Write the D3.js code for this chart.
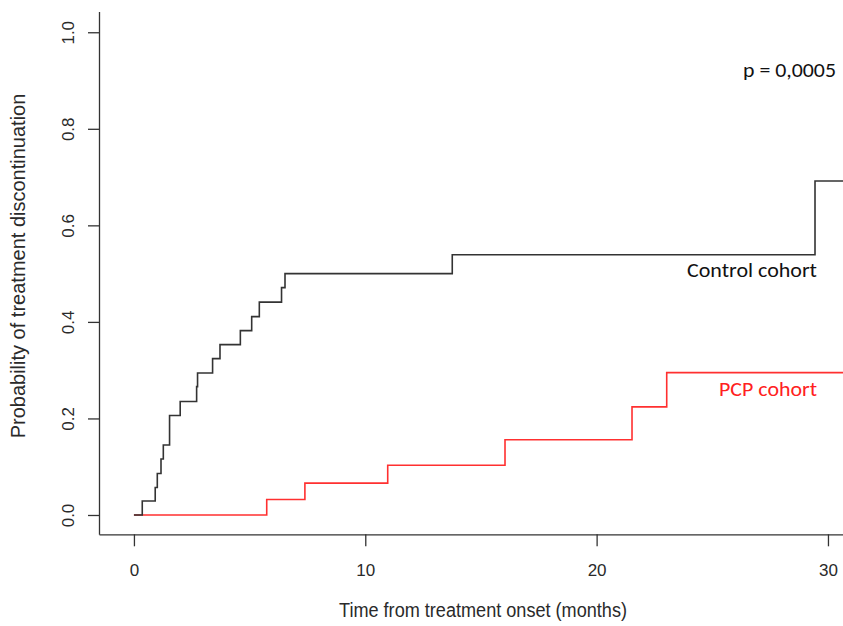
<!DOCTYPE html>
<html>
<head>
<meta charset="utf-8">
<script src="https://cdn.jsdelivr.net/npm/d3@7"></script>
<style>
  body { margin: 0; background: #fff; }
  .axis text { font-family: "Liberation Sans", Arial, sans-serif; font-size: 17px; fill: #2a2a2a; }
  .axis path, .axis line { stroke: #333; stroke-width: 1.3; }
</style>
</head>
<body>
<div id="chart-area"></div>
<script>

// Kaplan-Meier style step data (months, cumulative probability)
var controlTimes = [0, 0.36, 0.92, 1.01, 1.17, 1.27, 1.54, 2.00, 2.71, 2.75, 3.40, 3.72, 4.60, 5.09, 5.42, 6.38, 6.53, 13.76, 29.44, 31];
var controlProbs = [0, 0.029, 0.057, 0.086, 0.116, 0.145, 0.206, 0.235, 0.266, 0.294, 0.324, 0.353, 0.382, 0.411, 0.441, 0.471, 0.500, 0.539, 0.692, 0.692];

var pcpTimes = [0, 5.74, 7.39, 10.97, 16.04, 21.53, 23.03, 31];
var pcpProbs = [0, 0.032, 0.066, 0.103, 0.156, 0.224, 0.295, 0.295];

var xTicks = [0, 10, 20, 30];
var yTicks = [0, 0.2, 0.4, 0.6, 0.8, 1.0];

var width = 843, height = 626;

var svg = d3.select("#chart-area").append("svg")
    .attr("width", width)
    .attr("height", height);

// Scales
var x = d3.scaleLinear()
    .domain([-1.51, 30.65])
    .range([99, 843]);

var y = d3.scaleLinear()
    .domain([-0.04, 1.043])
    .range([534.3, 11.5]);

// Axes
var xAxis = d3.axisBottom(x)
    .tickValues(xTicks)
    .tickSize(12)
    .tickSizeOuter(0)
    .tickPadding(18)
    .tickFormat(d3.format("d"));

var yAxis = d3.axisLeft(y)
    .tickValues(yTicks)
    .tickSize(11)
    .tickSizeOuter(0)
    .tickFormat(d3.format(".1f"));

svg.append("g")
    .attr("class", "axis x-axis")
    .attr("transform", "translate(0,534.3)")
    .call(xAxis);

var gy = svg.append("g")
    .attr("class", "axis y-axis")
    .attr("transform", "translate(99,0)")
    .call(yAxis);

// R-style rotated y tick labels
gy.selectAll(".tick text")
    .attr("x", null)
    .attr("text-anchor", "middle")
    .attr("transform", "translate(-31,0) rotate(-90)")
    .attr("dy", "0.35em");

// Axis titles
svg.append("text")
    .attr("x", 483)
    .attr("y", 617)
    .attr("text-anchor", "middle")
    .attr("textLength", 288)
    .attr("lengthAdjust", "spacingAndGlyphs")
    .style("font-family", "'Liberation Sans', Arial, sans-serif")
    .style("font-size", "20px")
    .style("fill", "#2a2a2a")
    .text("Time from treatment onset (months)");

svg.append("text")
    .attr("transform", "translate(25,266) rotate(-90)")
    .attr("text-anchor", "middle")
    .style("font-family", "'Liberation Sans', Arial, sans-serif")
    .style("font-size", "20px")
    .style("fill", "#2a2a2a")
    .text("Probability of treatment discontinuation");

// Step curves
var line = d3.line()
    .x(function(d) { return x(d.t); })
    .y(function(d) { return y(d.p); })
    .curve(d3.curveStepAfter);

var control = controlTimes.map(function(t, i) { return {t: t, p: controlProbs[i]}; });
var pcp = pcpTimes.map(function(t, i) { return {t: t, p: pcpProbs[i]}; });

svg.append("path")
    .datum(pcp)
    .attr("fill", "none")
    .attr("stroke", "#ff3030")
    .attr("stroke-width", 1.6)
    .attr("d", line);

svg.append("path")
    .datum(control)
    .attr("fill", "none")
    .attr("stroke", "#333")
    .attr("stroke-width", 1.6)
    .attr("d", line);

// Annotations
var annFont = "Carlito, Lato, 'Open Sans', sans-serif";

svg.append("text")
    .attr("x", 836)
    .attr("y", 76.5)
    .attr("text-anchor", "end")
    .attr("textLength", 93)
    .attr("lengthAdjust", "spacingAndGlyphs")
    .style("font-family", annFont)
    .style("font-size", "20px")
    .style("fill", "#111")
    .text("p = 0,0005");

svg.append("text")
    .attr("x", 687)
    .attr("y", 277)
    .attr("textLength", 130)
    .attr("lengthAdjust", "spacingAndGlyphs")
    .style("font-family", annFont)
    .style("font-size", "21px")
    .style("fill", "#111")
    .text("Control cohort");

svg.append("text")
    .attr("x", 719)
    .attr("y", 396)
    .attr("textLength", 98)
    .attr("lengthAdjust", "spacingAndGlyphs")
    .style("font-family", annFont)
    .style("font-size", "21px")
    .style("fill", "#ff2020")
    .text("PCP cohort");

</script>
</body>
</html>
